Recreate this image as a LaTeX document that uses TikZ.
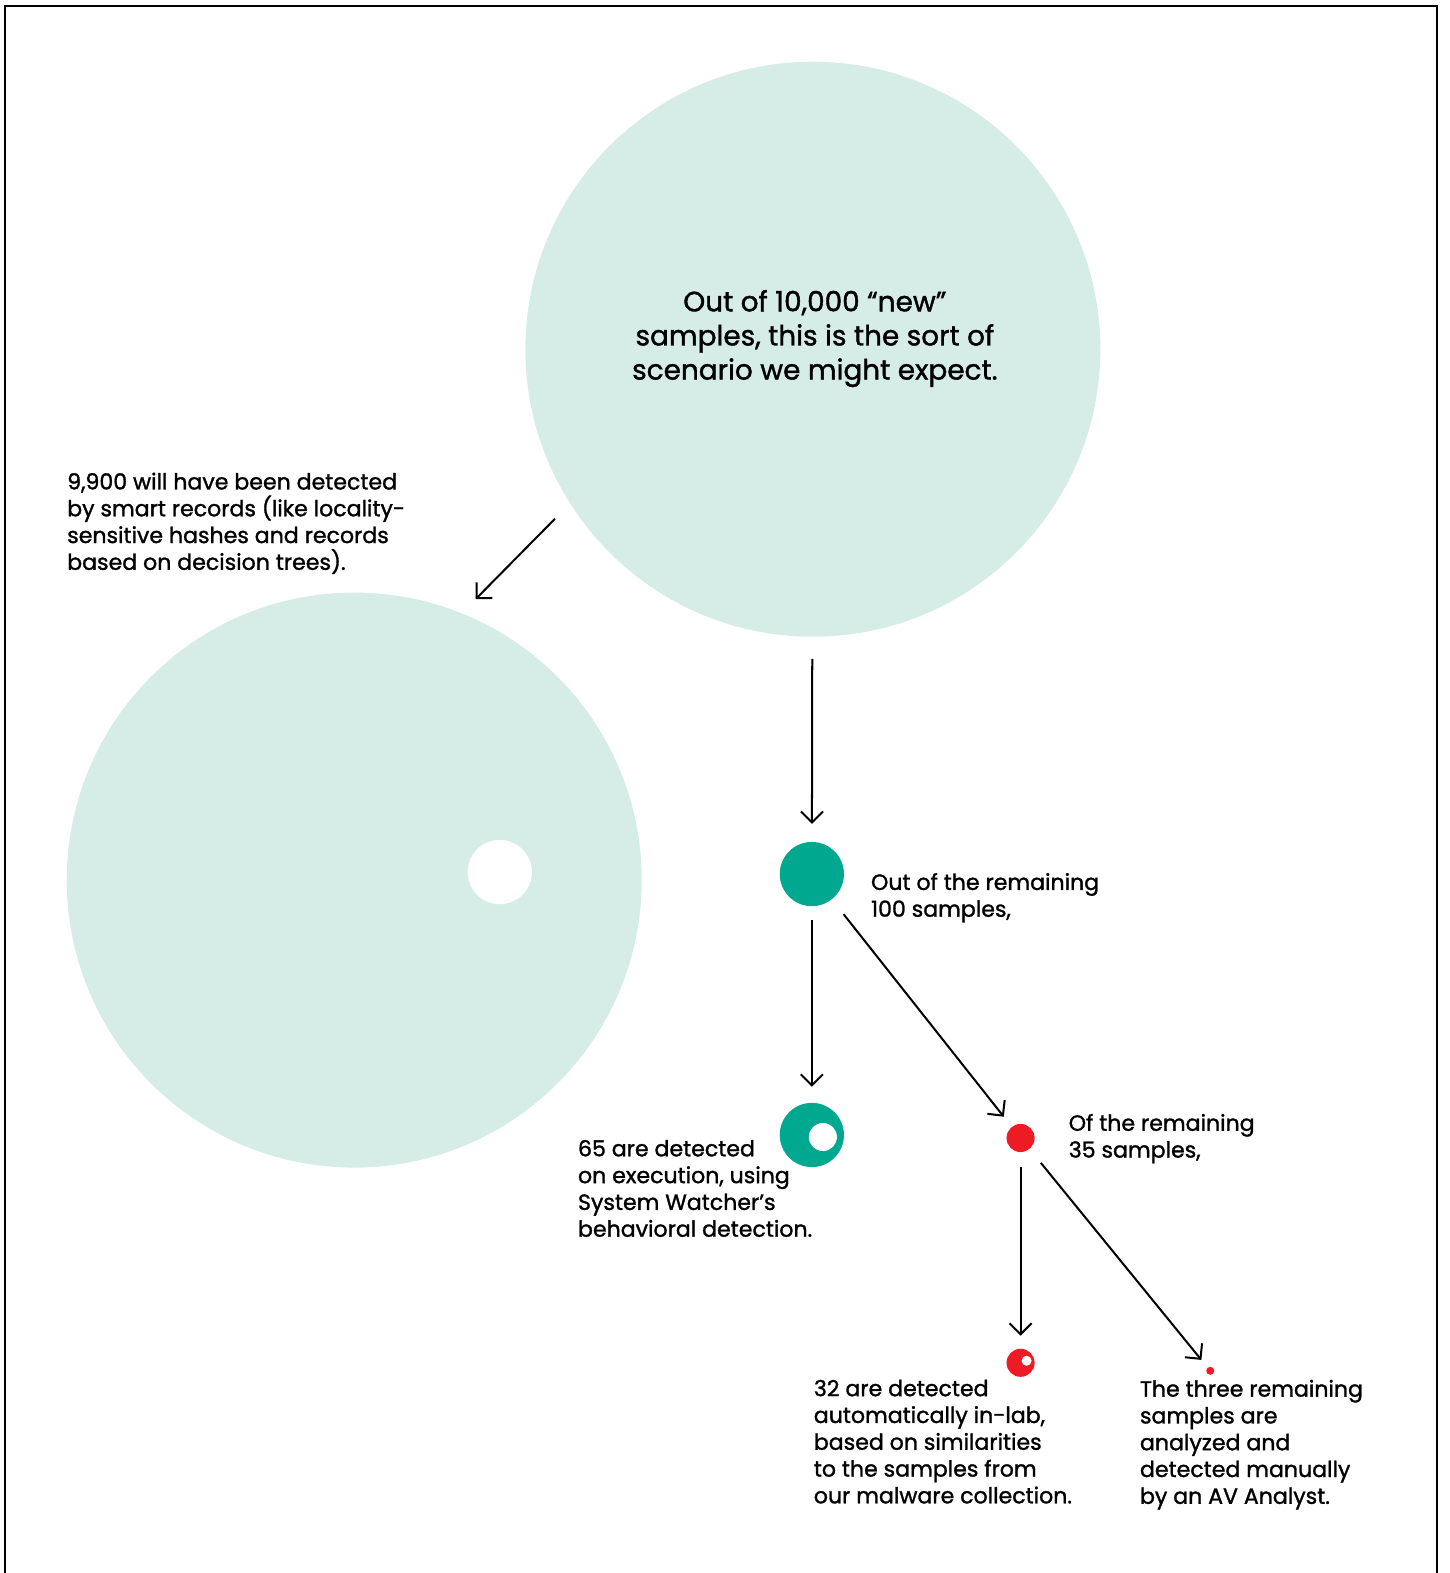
\documentclass[tikz,border=0pt]{standalone}
\usepackage{fontspec}
\setmainfont{Poppins}[FakeBold=1.3]
\usepackage{tikz}
\usetikzlibrary{arrows.meta}

\definecolor{mint}{HTML}{D6EDE7}
\definecolor{teal}{HTML}{00A88F}
\definecolor{kred}{HTML}{ED1C24}

\begin{document}
\begin{tikzpicture}[x=0.5pt, y=-0.5pt, inner sep=0pt, outer sep=0pt]
    \tikzstyle{disc}=[circle, draw=none]
    \tikzstyle{hole}=[circle, fill=white, draw=none]
    \tikzstyle{flow}=[-{Straight Barb[length=5.5pt, width=11pt]}, draw=black, line width=1pt]
    \tikzstyle{txt}=[anchor=north west, align=left, font=\fontsize{11}{13.35}\selectfont]

    \useasboundingbox (0,0) rectangle (1444,1567.5);
    \draw[line width=1pt] (5,1567.5) -- (5,6) -- (1432,6) -- (1432,1567.5);

    % circles
    \node[disc, fill=mint, minimum size=286.5pt] (C0) at (810,348) {};
    \node[disc, fill=mint, minimum size=286.5pt] (C1) at (353,877) {};
    \node[hole, minimum size=32pt] (H1) at (498,869) {};
    \node[disc, fill=teal, minimum size=32pt] (T0) at (809,871) {};
    \node[disc, fill=teal, minimum size=32pt] (T1) at (809,1131) {};
    \node[hole, minimum size=14pt] (H2) at (820,1133) {};
    \node[disc, fill=kred, minimum size=14pt] (R0) at (1017,1134) {};
    \node[disc, fill=kred, minimum size=14pt] (R1) at (1017,1358) {};
    \node[hole, minimum size=5pt] (H3) at (1023,1356) {};
    \node[disc, fill=kred, minimum size=4pt] (R2) at (1206,1366) {};

    % texts
    \node[align=center, anchor=north, font=\fontsize{13.9}{17}\selectfont] (L0) at (812,289)
        {Out of 10,000 “new”\\samples, this is the sort of\\scenario we might expect.};
    \node[txt] (L1) at (67,471) {9,900 will have been detected\\by smart records (like locality-\\sensitive hashes and records\\based on decision trees).};
    \node[txt] (L2) at (868,870) {Out of the remaining\\100 samples,};
    \node[txt] (L3) at (576,1136) {65 are detected\\on execution, using\\System Watcher’s\\behavioral detection.};
    \node[txt] (L4) at (1065,1110) {Of the remaining\\35 samples,};
    \node[txt] (L5) at (811,1375) {32 are detected\\automatically in-lab,\\based on similarities\\to the samples from\\our malware collection.};
    \node[txt] (L6) at (1136,1375) {The three remaining\\samples are\\analyzed and\\detected manually\\by an AV Analyst.};

    % arrows
    \coordinate (a0) at (553,517);
    \coordinate (a1) at (474,597);
    \draw[flow] (a0) -- (a1);
    \draw[flow, shorten <=11pt, shorten >=9pt] (C0) -- (T0);
    \draw[flow, shorten <=7pt, shorten >=8pt] (T0) -- (T1);
    \draw[flow, shorten <=9.5pt, shorten >=6.5pt] (T0) -- (R0);
    \draw[flow, shorten <=7.5pt, shorten >=6.5pt] (R0) -- (R1);
    \draw[flow, shorten <=9pt, shorten >=5pt] (R0) -- (R2);
\end{tikzpicture}
\end{document}
